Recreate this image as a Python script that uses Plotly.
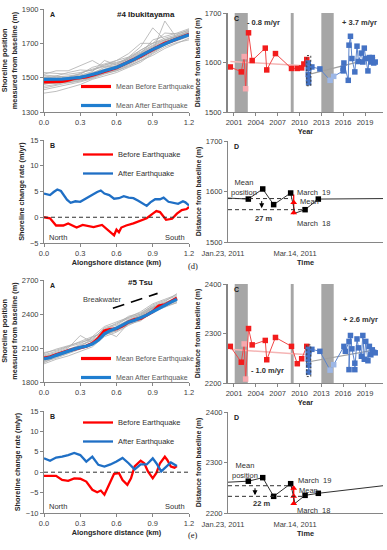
import plotly.graph_objects as go

FONT = "Liberation Sans, Arial, sans-serif"

# ======================= (d) #4 Ibukitayama =======================
dist_coarse_d = [0.0, 0.1, 0.2, 0.3, 0.4, 0.5, 0.6, 0.7, 0.8, 0.9, 1.0, 1.1, 1.2]
dist_fine_d = [0.0, 0.05, 0.1, 0.15, 0.2, 0.25, 0.3, 0.35, 0.4, 0.45, 0.5, 0.55,
               0.6, 0.65, 0.7, 0.75, 0.8, 0.85, 0.9, 0.95, 1.0, 1.05, 1.1, 1.15, 1.2]
d_transects = [
    [1440, 1455, 1470, 1480, 1500, 1525, 1545, 1575, 1610, 1650, 1690, 1715, 1740],
    [1530, 1525, 1520, 1530, 1545, 1565, 1585, 1615, 1650, 1690, 1720, 1745, 1770],
    [1500, 1505, 1510, 1520, 1560, 1580, 1600, 1640, 1700, 1700, 1760, 1755, 1775],
    [1470, 1465, 1475, 1490, 1505, 1525, 1540, 1570, 1600, 1645, 1690, 1720, 1745],
    [1510, 1500, 1505, 1515, 1535, 1600, 1575, 1620, 1680, 1790, 1720, 1740, 1765],
    [1460, 1475, 1485, 1495, 1510, 1530, 1550, 1580, 1615, 1655, 1830, 1730, 1760],
    [1490, 1510, 1500, 1510, 1530, 1550, 1570, 1600, 1640, 1680, 1710, 1735, 1760],
    [1410, 1420, 1440, 1460, 1490, 1510, 1530, 1560, 1590, 1640, 1680, 1705, 1720],
    [1520, 1540, 1540, 1570, 1600, 1560, 1570, 1610, 1660, 1700, 1720, 1740, 1760],
    [1480, 1480, 1490, 1500, 1520, 1545, 1560, 1595, 1630, 1675, 1700, 1725, 1745],
    [1450, 1460, 1480, 1490, 1515, 1540, 1555, 1585, 1620, 1660, 1695, 1720, 1745],
    [1500, 1495, 1500, 1525, 1550, 1570, 1600, 1620, 1660, 1700, 1730, 1750, 1780],
    [1465, 1470, 1495, 1505, 1525, 1560, 1580, 1610, 1645, 1685, 1715, 1740, 1770],
    [1430, 1445, 1460, 1475, 1495, 1520, 1540, 1565, 1600, 1630, 1670, 1700, 1730],
    [1515, 1510, 1530, 1545, 1540, 1575, 1590, 1605, 1640, 1720, 1740, 1760, 1785],
    [1485, 1490, 1470, 1485, 1500, 1535, 1565, 1590, 1625, 1665, 1705, 1730, 1755],
]
d_mean_before = [1475, 1476, 1477, 1478, 1485, 1495, 1500, 1505, 1515, 1525, 1535, 1545,
                 1558, 1575, 1590, 1605, 1625, 1645, 1665, 1685, 1700, 1712, 1725, 1738, 1752]
d_mean_after = [1490, 1490, 1490, 1492, 1495, 1498, 1502, 1510, 1518, 1528, 1540, 1550,
                1560, 1575, 1590, 1608, 1628, 1648, 1665, 1680, 1698, 1712, 1725, 1738, 1750]

d_rate_before_x = [0, 0.05, 0.1, 0.16, 0.2, 0.27, 0.32, 0.41, 0.48, 0.53, 0.58, 0.6, 0.62, 0.64,
                   0.68, 0.74, 0.79, 0.85, 0.9, 0.93, 0.96, 0.99, 1.01, 1.06, 1.1, 1.14, 1.18, 1.2]
d_rate_before = [0, -0.2, -1.6, -1.6, -1.2, -2.0, -1.5, -1.9, -1.5, -2.5, -3.5, -2.4, -2.9, -2.0,
                 -1.6, -1.2, -0.7, -0.2, 0.7, 1.2, 1.0, 0.2, -0.5, -0.3, 0.7, 1.4, 1.6, 2.0]
d_rate_after_x = [0, 0.05, 0.08, 0.11, 0.14, 0.19, 0.22, 0.26, 0.3, 0.35, 0.4, 0.44, 0.47, 0.5,
                  0.54, 0.58, 0.62, 0.66, 0.7, 0.74, 0.78, 0.82, 0.85, 0.88, 0.92, 0.96, 0.99,
                  1.03, 1.07, 1.11, 1.15, 1.17, 1.2]
d_rate_after = [4.6, 4.3, 4.9, 5.4, 5.1, 3.4, 2.8, 3.1, 3.0, 3.7, 4.3, 4.9, 5.2, 4.6, 4.3, 3.6,
                3.7, 4.1, 3.8, 3.7, 3.2, 2.7, 2.2, 2.9, 3.5, 3.5, 3.8, 3.0, 2.8, 2.6, 3.1, 2.9, 2.3]

d_before_years = [2000.5, 2002.0, 2002.4, 2002.6, 2003.0, 2003.5, 2005.3, 2005.5, 2006.7,
                  2008.9, 2009.7, 2010.3, 2010.6, 2011.0]
d_before_pos = [1591, 1581, 1612, 1547, 1660, 1604, 1629, 1585, 1618, 1588, 1588, 1589, 1597, 1606]
d_after_years = [2011.2, 2011.2, 2011.2, 2011.25, 2011.25, 2011.7, 2012.8, 2014.2, 2014.7,
                 2016.0, 2016.0, 2016.1, 2016.7, 2016.8, 2017.0, 2017.2, 2017.6, 2017.9, 2018.1,
                 2018.5, 2018.7, 2018.9, 2019.1, 2019.4, 2019.6, 2019.8, 2020.0, 2020.2, 2020.4]
d_after_pos = [1599, 1588, 1576, 1567, 1559, 1591, 1587, 1564, 1572, 1583, 1588, 1599, 1564,
               1635, 1653, 1608, 1581, 1633, 1602, 1619, 1601, 1629, 1608, 1583, 1610, 1601,
               1610, 1599, 1601]
d_trend_before_years = [2000.5, 2011.2]
d_trend_before = [1602, 1593]
d_trend_after_years = [2011.3, 2020.4]
d_trend_after = [1576, 1610]
d_box = {"x": [2011.0, 2011.55], "y": [1553, 1614]}

d_days = [0, 14.1, 24.1, 31.7, 43.5, 46.5, 53.5, 62.7, 107.6]
d_days_pos = [1587, 1585, 1605, 1574, 1597, 1557, 1564, 1585, 1586]
d_survey_days = [14.1, 24.1, 31.7, 43.5, 53.5, 62.7]
d_survey_pos = [1585, 1605, 1574, 1597, 1564, 1585]
d_quake_days = [45.6, 45.6]
d_quake_pos = [1578, 1558]
d_quake_span = [1594, 1555]
d_mean_upper = 1586
d_mean_lower = 1564

# ======================= (e) #5 Tsu =======================
dist_coarse_e = [0.0, 0.1, 0.2, 0.3, 0.4, 0.5, 0.6, 0.7, 0.8, 0.9, 1.0, 1.1]
dist_fine_e = [0.0, 0.05, 0.1, 0.15, 0.2, 0.25, 0.3, 0.35, 0.4, 0.45, 0.5, 0.55,
               0.6, 0.65, 0.7, 0.75, 0.8, 0.85, 0.9, 0.95, 1.0, 1.05, 1.1]
e_transects = [
    [1960, 2000, 2030, 2070, 2110, 2200, 2240, 2300, 2350, 2420, 2460, 2500],
    [2050, 2090, 2120, 2150, 2180, 2270, 2300, 2370, 2400, 2480, 2520, 2560],
    [2030, 2060, 2100, 2210, 2150, 2230, 2290, 2350, 2390, 2460, 2500, 2550],
    [1990, 2020, 2060, 2100, 2140, 2250, 2200, 2320, 2360, 2430, 2470, 2520],
    [2020, 2050, 2090, 2120, 2170, 2280, 2310, 2380, 2410, 2470, 2510, 2580],
    [1980, 2010, 2050, 2090, 2130, 2210, 2260, 2310, 2360, 2440, 2480, 2510],
    [2040, 2070, 2110, 2140, 2190, 2260, 2320, 2360, 2400, 2460, 2500, 2540],
    [2000, 2040, 2070, 2110, 2150, 2240, 2270, 2330, 2380, 2450, 2490, 2530],
    [2010, 2030, 2080, 2100, 2200, 2230, 2250, 2340, 2380, 2450, 2480, 2540],
    [1970, 2020, 2060, 2100, 2130, 2220, 2250, 2310, 2340, 2420, 2470, 2500],
    [2025, 2045, 2085, 2130, 2165, 2245, 2285, 2345, 2390, 2455, 2495, 2545],
    [1985, 2030, 2065, 2095, 2140, 2215, 2265, 2320, 2370, 2440, 2475, 2525],
    [2060, 2080, 2115, 2160, 2200, 2290, 2330, 2370, 2420, 2490, 2530, 2570],
]
e_mean_before = [2010, 2020, 2040, 2060, 2075, 2090, 2105, 2115, 2140, 2185, 2250, 2265,
                 2270, 2295, 2330, 2350, 2360, 2390, 2420, 2470, 2480, 2510, 2540]
e_mean_after = [2005, 2015, 2035, 2055, 2075, 2090, 2105, 2115, 2135, 2170, 2225, 2255,
                2275, 2300, 2330, 2345, 2365, 2390, 2420, 2450, 2475, 2505, 2530]
e_breakwater_x = [0.57, 0.94]
e_breakwater_y = [2450, 2582]

e_rate_before_x = [0, 0.1, 0.15, 0.2, 0.25, 0.3, 0.35, 0.4, 0.44, 0.47, 0.5, 0.55, 0.58, 0.62,
                   0.65, 0.69, 0.72, 0.75, 0.8, 0.83, 0.86, 0.9, 0.93, 0.96, 1.0, 1.02, 1.05,
                   1.08, 1.1]
e_rate_before = [-0.9, -0.9, -1.9, -2.1, -1.5, -1.6, -2.3, -4.3, -4.9, -4.5, -5.5, -2.3, -0.4,
                 -0.2, -1.9, -3.1, -1.5, 1.4, 2.8, 2.2, 0.2, -1.5, -0.2, 2.2, 3.8, 3.0, 1.4,
                 1.1, 1.5]
e_rate_after_x = [0, 0.05, 0.1, 0.15, 0.2, 0.25, 0.3, 0.35, 0.4, 0.45, 0.5, 0.55, 0.6, 0.65,
                  0.7, 0.75, 0.8, 0.85, 0.9, 0.93, 0.97, 1.0, 1.05, 1.1]
e_rate_after = [3.4, 2.8, 3.6, 3.8, 4.2, 4.7, 4.2, 2.6, 3.8, 1.8, 1.4, 1.9, 2.6, 3.5, 2.2, 0.7,
                1.9, 1.9, 3.4, 2.2, 0.2, 1.0, 2.4, 1.5]

e_before_years = [2000.5, 2002.0, 2002.4, 2002.6, 2003.0, 2003.5, 2005.3, 2005.5, 2006.7,
                  2008.9, 2009.7, 2010.3, 2011.0]
e_before_pos = [2274, 2242, 2279, 2208, 2310, 2277, 2286, 2247, 2292, 2274, 2239, 2249, 2274]
e_after_years = [2011.2, 2011.2, 2011.2, 2011.25, 2011.25, 2011.7, 2012.8, 2014.2, 2014.7,
                 2016.1, 2016.3, 2016.8, 2016.8, 2017.0, 2017.2, 2017.6, 2017.6, 2017.9, 2018.1,
                 2018.5, 2018.7, 2018.9, 2019.1, 2019.4, 2019.6, 2019.8, 2020.0, 2020.2, 2020.4]
e_after_pos = [2268, 2258, 2248, 2236, 2222, 2268, 2264, 2226, 2237, 2274, 2264, 2284, 2227,
               2296, 2269, 2240, 2227, 2289, 2271, 2254, 2296, 2248, 2284, 2245, 2274, 2257,
               2267, 2262, 2261]
e_trend_before_years = [2000.5, 2011.2]
e_trend_before = [2268, 2257]
e_trend_after_years = [2011.3, 2020.4]
e_trend_after = [2243, 2267]
e_box = {"x": [2011.0, 2011.55], "y": [2213, 2277]}

e_days = [0, 14.1, 24.1, 31.7, 43.5, 46.5, 53.5, 62.7, 107.6]
e_days_pos = [2261, 2263, 2270, 2233, 2258, 2219, 2235, 2239, 2254]
e_survey_days = [14.1, 24.1, 31.7, 43.5, 53.5, 62.7]
e_survey_pos = [2263, 2270, 2233, 2258, 2235, 2239]
e_quake_days = [45.6, 45.6, 45.6]
e_quake_pos = [2249, 2233, 2219]
e_quake_span = [2253, 2218]
e_mean_upper = 2254
e_mean_lower = 2233

gap_years = [[2001.1, 2002.9], [2008.8, 2009.2], [2013.0, 2014.7]]
faded_before = [2, 3]
faded_after = [7, 8]
time_tickvals = [0, 50]
time_ticktext = ["Jan.23, 2011", "Mar.14, 2011"]

# ======================= styling =======================
RED = "#FF0000"
BLUE_A = "#1F7ED0"
BLUE_B = "#1F6FC5"
SQ_RED = "#F21C1C"
SQ_BLUE = "#4472C4"
PINK = "#F7A8AE"
LBLUE = "#9DB7E6"
AX = "#868686"
TXT = "#404040"
TICK = 7.5
TITLE = 7.3
NOTE = 7.5

fig = go.Figure()


def add(tr, n):
    tr.xaxis = "x" if n == 1 else f"x{n}"
    tr.yaxis = "y" if n == 1 else f"y{n}"
    fig.add_trace(tr)


def panel_A(n, dist_c, transects, dist_f, mb, ma, leg):
    for t in transects:
        add(go.Scatter(x=dist_c, y=t, mode="lines", line=dict(color="#ADADAD", width=0.8),
                       showlegend=False, hoverinfo="skip"), n)
    add(go.Scatter(x=dist_f, y=mb, mode="lines", line=dict(color=RED, width=3.2),
                   name="Mean Before Earthquake", legend=leg), n)
    add(go.Scatter(x=dist_f, y=ma, mode="lines", line=dict(color=BLUE_A, width=3.2),
                   name="Mean After Earthquake", legend=leg), n)


def panel_B(n, bx, b, axx, a, leg):
    add(go.Scatter(x=bx, y=b, mode="lines", line=dict(color=RED, width=2.3),
                   name="Before Earthquake", legend=leg), n)
    add(go.Scatter(x=axx, y=a, mode="lines", line=dict(color=BLUE_B, width=2.3),
                   name="After Earthquake", legend=leg), n)


def panel_C(n, by, bp, ay, ap, tby, tb, tay, ta):
    add(go.Scatter(x=tby, y=tb, mode="lines", line=dict(color="#F5B5B5", width=1.5),
                   showlegend=False, hoverinfo="skip"), n)
    add(go.Scatter(x=tay, y=ta, mode="lines", line=dict(color="#A0A0A0", width=1.2),
                   showlegend=False, hoverinfo="skip"), n)
    bcol = [PINK if i in faded_before else SQ_RED for i in range(len(by))]
    acol = [LBLUE if i in faded_after else SQ_BLUE for i in range(len(ay))]
    add(go.Scatter(x=by, y=bp, mode="lines+markers", line=dict(color="#F04848", width=1),
                   marker=dict(symbol="square", size=5.5, color=bcol), showlegend=False), n)
    add(go.Scatter(x=ay, y=ap, mode="lines+markers", line=dict(color="#5B84CC", width=1),
                   marker=dict(symbol="square", size=5.5, color=acol), showlegend=False), n)


def panel_D(n, days, dpos, sd, sp, qd, qp, qspan):
    add(go.Scatter(x=[qd[0], qd[0]], y=qspan, mode="lines", line=dict(color=RED, width=1.3),
                   showlegend=False, hoverinfo="skip"), n)
    add(go.Scatter(x=days, y=dpos, mode="lines", line=dict(color="#303030", width=1),
                   showlegend=False), n)
    add(go.Scatter(x=sd, y=sp, mode="markers", marker=dict(symbol="square", size=5.5, color="black"),
                   showlegend=False), n)
    add(go.Scatter(x=qd, y=qp, mode="markers", marker=dict(symbol="triangle-up", size=6, color=RED),
                   showlegend=False), n)


panel_A(1, dist_coarse_d, d_transects, dist_fine_d, d_mean_before, d_mean_after, "legend")
panel_B(2, d_rate_before_x, d_rate_before, d_rate_after_x, d_rate_after, "legend2")
panel_C(3, d_before_years, d_before_pos, d_after_years, d_after_pos,
        d_trend_before_years, d_trend_before, d_trend_after_years, d_trend_after)
panel_D(4, d_days, d_days_pos, d_survey_days, d_survey_pos, d_quake_days, d_quake_pos, d_quake_span)

panel_A(5, dist_coarse_e, e_transects, dist_fine_e, e_mean_before, e_mean_after, "legend3")
add(go.Scatter(x=e_breakwater_x, y=e_breakwater_y, mode="lines",
               line=dict(color="black", width=1.6, dash="12px,7px"), showlegend=False), 5)
panel_B(6, e_rate_before_x, e_rate_before, e_rate_after_x, e_rate_after, "legend4")
panel_C(7, e_before_years, e_before_pos, e_after_years, e_after_pos,
        e_trend_before_years, e_trend_before, e_trend_after_years, e_trend_after)
panel_D(8, e_days, e_days_pos, e_survey_days, e_survey_pos, e_quake_days, e_quake_pos, e_quake_span)

# ======================= layout =======================
W, H = 387, 550


def xd(a, b):
    return [a / W, b / W]


def yd(top, bot):
    return [1 - bot / H, 1 - top / H]


XL = xd(44, 189)
XR = xd(228, 383)
dom = {
    1: (XL, yd(9, 112)), 2: (XL, yd(140, 243)), 3: (XR, yd(13, 112)), 4: (XR, yd(141, 242)),
    5: (XL, yd(280, 382)), 6: (XL, yd(411, 513)), 7: (XR, yd(284, 383)), 8: (XR, yd(412, 513)),
}

tickfont = dict(size=TICK, color=TXT, family=FONT)
titlefont = dict(size=TITLE, color="#262626", family=FONT, weight="bold")
titlefont_r = dict(size=7, color="#262626", family=FONT, weight="bold")

yinfo = {
    1: ([1300, 1900], 200, "Shoreline position<br>measured from baseline (m)"),
    2: ([-5, 15], 5, "Shoreline change rate (m/yr)"),
    3: ([1500, 1700], 100, "Distance from baseline (m)"),
    4: ([1500, 1700], 100, "Distance from baseline (m)"),
    5: ([1800, 2700], 300, "Shoreline position<br>measured from baseline (m)"),
    6: ([-10, 15], 5, "Shoreline change rate (m/yr)"),
    7: ([2200, 2400], 100, "Distance from baseline (m)"),
    8: ([2200, 2400], 100, "Distance from baseline (m)"),
}

lay = {}
for n in range(1, 9):
    xk = "xaxis" if n == 1 else f"xaxis{n}"
    yk = "yaxis" if n == 1 else f"yaxis{n}"
    xs = "x" if n == 1 else f"x{n}"
    ys = "y" if n == 1 else f"y{n}"
    rng, dt, ttl = yinfo[n]
    lay[yk] = dict(domain=dom[n][1], anchor=xs, range=rng, dtick=dt, tick0=rng[0],
                   showgrid=False, zeroline=False, showline=True, linecolor=AX,
                   linewidth=2 if n in (3, 7) else 1,
                   ticks="outside", ticklen=3, tickcolor=AX, tickfont=tickfont,
                   title=dict(text=ttl, font=titlefont_r if n in (3, 4, 7, 8) else titlefont,
                              standoff=4 if n in (2, 6) else 3))
    xa = dict(domain=dom[n][0], anchor=ys, showgrid=False, zeroline=False, showline=True,
              linecolor=AX, linewidth=1, ticks="outside", ticklen=3, tickcolor=AX,
              tickfont=tickfont)
    if n in (1, 2, 5, 6):
        xa.update(range=[0, 1.2], dtick=0.3, tick0=0, tickformat=".1f")
        if n in (2, 6):
            xa["title"] = dict(text="Alongshore distance (km)", font=titlefont, standoff=1)
    elif n in (3, 7):
        xa.update(range=[2000.18, 2021.47], dtick=3, tick0=2001, tickformat="d",
                  title=dict(text="Year", font=titlefont, standoff=1))
    else:
        xa.update(range=[0, 107.6], tickmode="array", tickvals=time_tickvals,
                  ticktext=time_ticktext, ticks="", ticklabelshift=-5, ticklabelstandoff=4,
                  title=dict(text="Time", font=titlefont, standoff=0))
    lay[xk] = xa

shapes = []
for n in (2, 6):
    shapes.append(dict(type="line", xref=f"x{n} domain", yref=f"y{n}", x0=0, x1=1, y0=0, y1=0,
                       line=dict(color="#303030", width=1, dash="4px,3px")))
for n in (3, 7):
    for g in gap_years:
        shapes.append(dict(type="rect", xref=f"x{n}", yref=f"y{n} domain", x0=g[0], x1=g[1],
                           y0=0, y1=1.0, fillcolor="#A6A6A6", line=dict(width=0), layer="below"))
for n, box in ((3, d_box), (7, e_box)):
    shapes.append(dict(type="rect", xref=f"x{n}", yref=f"y{n}", x0=box["x"][0], x1=box["x"][1],
                       y0=box["y"][0], y1=box["y"][1], line=dict(color="#404040", width=1, dash="2px,2px")))
for n, up, lo in ((4, d_mean_upper, d_mean_lower), (8, e_mean_upper, e_mean_lower)):
    shapes.append(dict(type="line", xref=f"x{n}", yref=f"y{n}", x0=0, x1=44.2, y0=up, y1=up,
                       line=dict(color="#303030", width=1, dash="4px,3px")))
    shapes.append(dict(type="line", xref=f"x{n}", yref=f"y{n}", x0=0, x1=53.5, y0=lo, y1=lo,
                       line=dict(color="#303030", width=1, dash="4px,3px")))

ann = []


def note(n, x, y, text, size=NOTE, bold=False, color="#303030", xanchor="center", **kw):
    f = dict(size=size, color=color, family=FONT)
    if bold:
        f["weight"] = "bold"
    d = dict(xref="x" if n == 1 else f"x{n}", yref="y" if n == 1 else f"y{n}", x=x, y=y,
             text=text, showarrow=False, font=f, xanchor=xanchor)
    d.update(kw)
    ann.append(d)


# panel letters
for n, letter in zip(range(1, 9), "ABCDABCD"):
    ann.append(dict(xref=("x" if n == 1 else f"x{n}") + " domain",
                    yref=("y" if n == 1 else f"y{n}") + " domain", x=0.025, y=1.0,
                    xanchor="left", yanchor="top", text=letter, showarrow=False,
                    font=dict(size=7, family=FONT, color="#202020", weight="bold")))

note(1, 0.84, 1870, "#4 Ibukitayama", size=8, bold=True, color="#202020")
note(5, 0.8, 2680, "#5 Tsu", size=8, bold=True, color="#202020")
note(5, 0.48, 2525, "Breakwater", size=NOTE, color="#404040")

for n, ymin in ((2, -4.0), (6, -8.4)):
    note(n, 0.116, ymin, "North")
    note(n, 1.084, ymin, "South")

note(3, 2005.0, 1680, "- 0.8 m/yr", bold=True, size=7.5)
note(3, 2018.2, 1680, "+ 3.7 m/yr", bold=True, size=7.5)
note(7, 2005.6, 2226, "- 1.0 m/yr", bold=True, size=7.5)
note(7, 2018.4, 2328, "+ 2.6 m/yr", bold=True, size=7.5)

note(4, 11.3, 1608, "Mean<br>position")
note(4, 24.5, 1546, "27 m", bold=True)
note(4, 46.8, 1598, "March  19", xanchor="left")
note(4, 48.8, 1580, "Mean", xanchor="left")
note(4, 46.5, 1537, "March  18", xanchor="left")
note(8, 11.8, 2284, "Mean<br>position")
note(8, 23.4, 2218, "22 m", bold=True)
note(8, 47.5, 2265, "March  19", xanchor="left")
note(8, 47.7, 2245, "Mean", xanchor="left")
note(8, 46.5, 2205, "March  18", xanchor="left")

# arrows for mean shift
for n, x, y0, y1 in ((4, 23.4, 1584, 1567), (8, 18.75, 2252, 2235)):
    ann.append(dict(xref=f"x{n}", yref=f"y{n}", x=x, y=y1, ax=x, ay=y0, axref=f"x{n}",
                    ayref=f"y{n}", showarrow=True, arrowhead=2, arrowsize=1, arrowwidth=1,
                    arrowcolor="black", text=""))

ann.append(dict(xref="paper", yref="paper", x=193 / W, y=1 - 266 / H, text="(d)",
                showarrow=False, font=dict(size=8.5, family="Liberation Serif", color="#202020")))
ann.append(dict(xref="paper", yref="paper", x=193 / W, y=1 - 542 / H, text="(e)",
                showarrow=False, font=dict(size=8.5, family="Liberation Serif", color="#202020")))

legA = dict(font=dict(size=7, color="#595959", family=FONT), bgcolor="rgba(0,0,0,0)",
            itemwidth=30, tracegroupgap=0, xanchor="left", yanchor="top")
legB = dict(font=dict(size=7.5, color="#303030", family=FONT), bgcolor="rgba(0,0,0,0)",
            itemwidth=30, tracegroupgap=0, xanchor="left", yanchor="top")

fig.update_layout(
    width=W, height=H, margin=dict(l=0, r=0, t=0, b=0, autoexpand=False),
    paper_bgcolor="white", plot_bgcolor="white", font=dict(family=FONT, size=TICK, color=TXT),
    showlegend=True,
    legend=dict(legA, x=76 / W, y=1 - 72 / H),
    legend2=dict(legB, x=78 / W, y=1 - 140 / H),
    legend3=dict(legA, x=76 / W, y=1 - 344 / H),
    legend4=dict(legB, x=78 / W, y=1 - 408 / H),
    shapes=shapes, annotations=ann, **lay,
)

fig.write_html("out.html", config={"displayModeBar": False},
               post_script="document.body.style.margin='0';document.body.style.overflow='hidden';")
